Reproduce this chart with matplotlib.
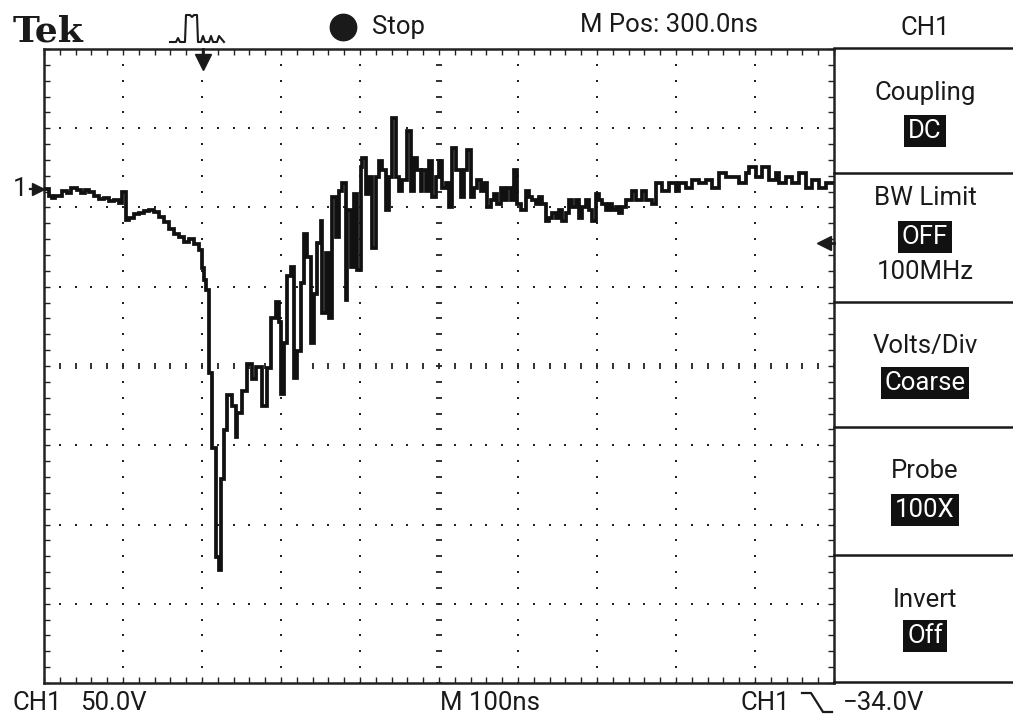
import numpy as np
import matplotlib
matplotlib.use("Agg")
import matplotlib.pyplot as plt

# scope font: a narrow sans
FONT = ["Roboto", "DejaVu Sans"]
plt.rcParams["font.family"] = FONT

# trace: time relative to trigger (ns), volts relative to CH1 ground
t_ns = [-200, -194, -190, -186, -177, -171, -166, -158, -153, -148, -143, -137,
        -130, -124, -118, -111, -105, -101, -96, -92, -86, -80, -73, -67, -61,
        -54, -48, -42, -35, -29, -23, -16, -10, -4, 0, 3, 5, 9, 9, 13, 18, 22,
        24, 28, 32, 38, 43, 44, 51, 57, 63, 68, 76, 82, 87, 94, 97, 100, 104,
        108, 113, 116, 120, 125, 129, 133, 138, 142, 146, 151, 152, 157, 161,
        165, 170, 173, 177, 182, 184, 189, 192, 196, 201, 203, 208, 211, 215,
        220, 224, 228, 233, 237, 241, 246, 249, 253, 260, 265, 268, 272, 277,
        279, 284, 287, 291, 296, 300, 304, 309, 313, 317, 322, 328, 332, 335,
        341, 344, 348, 353, 357, 361, 366, 370, 373, 379, 382, 386, 391, 395,
        399, 404, 410, 414, 418, 423, 427, 430, 436, 439, 443, 448, 452, 456,
        461, 465, 468, 473, 477, 481, 486, 490, 494, 499, 503, 506, 511, 515,
        519, 524, 528, 532, 537, 544, 549, 557, 562, 570, 575, 582, 591, 600,
        604, 613, 620, 629, 638, 646, 655, 663, 671, 680, 689, 692, 701, 709,
        718, 727, 730, 739, 747, 756, 765, 772, 781, 790, 798]
v_volts = [0, -4.4, -5.7, -4.4, -1.3, -2.5, 0.6, -0.6, -2.5, -0.6, -1.9, -4.4,
           -6.3, -5.7, -7.6, -6.9, -8.8, -1.9, -19.5, -18.3, -15.8, -15.1,
           -13.9, -13.2, -14.5, -17.7, -20.8, -25.2, -28.4, -30.3, -33.4,
           -31.5, -34.7, -38.5, -49.8, -57.4, -63.7, -67.5, -116, -163, -232,
           -240, -183, -152, -130, -137, -156, -141, -127, -110, -120, -112,
           -137, -113, -81, -71, -84, -129, -97, -55, -49, -119, -102, -59,
           -28, -43, -97, -66, -34, -20, -78, -40, -81, -5, -30, -1, 4, -70,
           -13, -49, -3, -51, 14, 20, -3, 8, -37, 8, 18, 12, -13, 8, 45, 8, -1,
           6, 37, -1, 20, 12, -1, 12, -1, 18, -5, 8, 18, 1, 4, -11, 26, 12, -5,
           12, 25, -5, 1, 6, -1, 4, -11, -7, -3, -9, 1, -7, 1, -7, 12, -9, -13,
           -1, -5, -7, -9, -5, -9, -20, -18, -15, -18, -13, -20, -15, -7, -11,
           -7, -18, -11, -7, -13, -20, -3, -7, -9, -13, -9, -13, -11, -15, -11,
           -7, -1, -7, -1, -7, -9, 4, -1, 4, -1, 4, 1, 6, 4, 6, 1, 10, 8, 8, 4,
           10, 14, 8, 14, 6, 10, 4, 8, 4, 10, 1, 6, 1, 4, 4]

volts_per_div = 50.0
ns_per_div = 100.0
ground_offset_div = 2.23      # CH1 ground marker above screen centre
trigger_level = -34.0

W, H = 1013, 719
fig = plt.figure(figsize=(W / 100, H / 100), dpi=100)
fig.patch.set_facecolor("white")

# graticule area in pixels
gx0, gx1, gy0, gy1 = 44, 834, 49, 683
ax = fig.add_axes([gx0 / W, 1 - gy1 / H, (gx1 - gx0) / W, (gy1 - gy0) / H])

t_lo, t_hi = -200.0, -200.0 + 10 * ns_per_div
v_lo = (-4 - ground_offset_div) * volts_per_div
v_hi = (4 - ground_offset_div) * volts_per_div
ax.set_xlim(t_lo, t_hi)
ax.set_ylim(v_lo, v_hi)

# dotted graticule
ink = "#222222"
sub_t = np.arange(t_lo, t_hi + 1e-6, ns_per_div / 5)
sub_v = np.arange(v_lo, v_hi + 1e-6, volts_per_div / 5)
t_mid = (t_lo + t_hi) / 2
v_mid = (v_lo + v_hi) / 2
for i in range(1, 10):
    tx = t_lo + i * ns_per_div
    if abs(tx - t_mid) < 1e-6:
        ax.plot(np.full_like(sub_v, tx), sub_v, ls="none", marker="_",
                ms=5, mew=1.3, color=ink, zorder=1)
    else:
        ax.plot(np.full_like(sub_v, tx), sub_v, ls="none", marker="s",
                ms=1.6, mew=0, color=ink, zorder=1)
for j in range(1, 8):
    vy = v_lo + j * volts_per_div
    if abs(vy - v_mid) < 1e-6:
        ax.plot(sub_t, np.full_like(sub_t, vy), ls="none", marker="|",
                ms=5, mew=1.3, color=ink, zorder=1)
    else:
        ax.plot(sub_t, np.full_like(sub_t, vy), ls="none", marker="s",
                ms=1.6, mew=0, color=ink, zorder=1)

# border ruler ticks
ax.set_xticks(sub_t)
ax.set_yticks(sub_v)
ax.tick_params(direction="in", length=4, width=1, colors=ink,
               top=True, right=True, labelbottom=False, labelleft=False)
for s in ax.spines.values():
    s.set_linewidth(1.8)
    s.set_color(ink)

# the waveform
ax.plot(t_ns, v_volts, color="#111111", lw=2.7, drawstyle="steps-post",
        solid_joinstyle="miter", zorder=3)

# overlay in pixel coordinates for the readouts
ov = fig.add_axes([0, 0, 1, 1], zorder=5)
ov.set_xlim(0, W)
ov.set_ylim(H, 0)
ov.axis("off")
ov.patch.set_visible(False)

fs = 18.5
txt = dict(fontsize=fs, color="#1a1a1a", va="center")
ov.text(13, 31, "Tek", fontsize=26, fontweight="bold", va="center",
        family=["DejaVu Serif"], color="#1a1a1a")
# trigger-mode pulse icon
ov.plot([170, 176, 178, 180, 183, 185, 186, 190, 192, 194, 197, 198, 201,
         203, 205, 209, 211, 213, 217, 219, 224],
        [42, 42, 38, 42, 42, 42, 15, 15, 17, 15, 15, 42, 42, 36, 42, 42, 36,
         42, 42, 36, 42], color="#1a1a1a", lw=1.5)
ov.plot([343], [27], marker="o", ms=19, color="#1a1a1a", ls="none")
ov.text(372, 27, "Stop", ha="left", **txt)
ov.text(580, 25, "M Pos: 300.0ns", ha="left", **txt)
ov.text(925, 28, "CH1", ha="center", **txt)

# trigger position arrow
ov.plot([203, 203], [gy0, 58], color="#1a1a1a", lw=2)
ov.plot([203], [62], marker="v", ms=11, color="#1a1a1a", ls="none")

# channel 1 ground marker
ov.text(13, 189, "1", ha="left", **txt)
ov.plot([30, gx0], [189, 189], color="#1a1a1a", lw=1.6)
ov.plot([38], [189], marker=">", ms=8, color="#1a1a1a", ls="none")

# trigger level arrow (from the trigger level value)
trig_y = gy0 + (v_hi - trigger_level) / (v_hi - v_lo) * (gy1 - gy0)
ov.plot([gx1 - 8, gx1], [trig_y, trig_y], color="#1a1a1a", lw=2)
ov.plot([gx1 - 10], [trig_y], marker="<", ms=10, color="#1a1a1a", ls="none")

# side menu
panel_lines = [48, 173, 302, 427, 555, 682]
for yy in panel_lines:
    ov.plot([gx1, W], [yy, yy], color="#1a1a1a", lw=1.8)
inv = dict(boxstyle="square,pad=0.15", fc="#111111", ec="none")
cx = 925
ov.text(cx, 93, "Coupling", ha="center", **txt)
ov.text(cx, 131, "DC", ha="center", fontsize=fs, color="white", va="center", bbox=inv)
ov.text(cx, 198, "BW Limit", ha="center", **txt)
ov.text(cx, 237, "OFF", ha="center", fontsize=fs, color="white", va="center", bbox=inv)
ov.text(cx, 272, "100MHz", ha="center", **txt)
ov.text(cx, 346, "Volts/Div", ha="center", **txt)
ov.text(cx, 383, "Coarse", ha="center", fontsize=fs, color="white", va="center", bbox=inv)
ov.text(cx, 471, "Probe", ha="center", **txt)
ov.text(cx, 510, "100X", ha="center", fontsize=fs, color="white", va="center", bbox=inv)
ov.text(cx, 600, "Invert", ha="center", **txt)
ov.text(cx, 636, "Off", ha="center", fontsize=fs, color="white", va="center", bbox=inv)

# bottom readouts
ov.text(13, 703, "CH1", ha="left", **txt)
ov.text(80, 703, "%.1fV" % volts_per_div, ha="left", **txt)
ov.text(440, 703, "M %dns" % ns_per_div, ha="left", **txt)
ov.text(740, 703, "CH1", ha="left", **txt)
ov.plot([802, 811, 823, 832], [693, 693, 712, 712], color="#1a1a1a", lw=1.6)
ov.text(843, 703, "\u2212%.1fV" % abs(trigger_level), ha="left", **txt)

fig.savefig("out.png", dpi=100, facecolor="white")
